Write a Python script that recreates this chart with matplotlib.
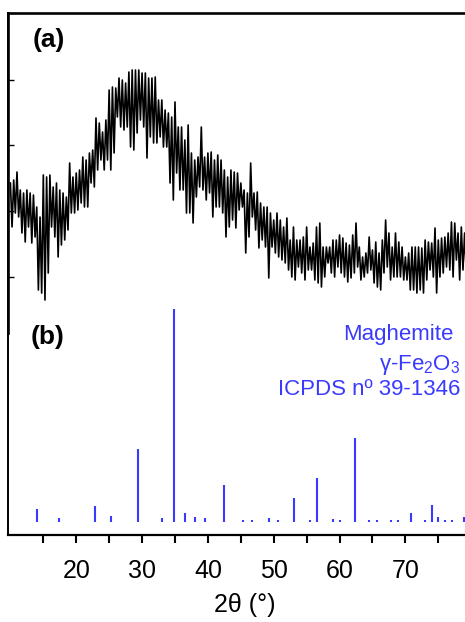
import matplotlib as mpl
mpl.use('Agg')
import matplotlib.pyplot as plt
import numpy as np

plt.rcParams['font.family'] = ['Liberation Sans', 'DejaVu Sans']
plt.rcParams['mathtext.default'] = 'regular'

# (a) measured pattern, read as upper / lower extent of the noise band every 0.5 deg
scan_start = 10.0
scan_step = 0.5
band_high = [157, 160, 168, 150, 147, 150, 147, 145, 133, 123, 165, 163, 165, 153, 157, 150,
             147, 143, 177, 163, 167, 170, 183, 180, 187, 190, 222, 217, 208, 220, 250, 253,
             252, 262, 260, 257, 268, 270, 270, 270, 267, 267, 262, 262, 263, 240, 240, 230,
             227, 223, 238, 213, 213, 200, 215, 187, 180, 183, 213, 183, 187, 188, 180, 185,
             180, 170, 163, 170, 168, 167, 157, 150, 147, 177, 147, 148, 137, 133, 133, 127,
             120, 127, 120, 113, 122, 100, 113, 100, 100, 103, 113, 93, 97, 113, 117, 93,
             93, 93, 100, 100, 105, 102, 97, 95, 105, 117, 93, 83, 87, 103, 90, 98,
             87, 100, 120, 107, 93, 107, 98, 93, 83, 87, 93, 93, 93, 92, 100, 98,
             97, 112, 100, 102, 103, 107, 118, 117, 107, 113, 107]
band_low = [113, 127, 123, 107, 98, 113, 97, 103, 50, 47, 40, 67, 113, 103, 83, 95,
            100, 110, 127, 127, 130, 137, 133, 133, 157, 153, 170, 180, 170, 180, 170, 187,
            223, 213, 210, 213, 193, 190, 207, 220, 213, 182, 203, 197, 197, 203, 193, 193,
            157, 140, 167, 150, 150, 127, 127, 117, 143, 153, 150, 140, 147, 123, 133, 133,
            127, 103, 113, 120, 112, 130, 133, 87, 103, 123, 110, 92, 100, 93, 62, 93,
            87, 83, 80, 77, 70, 63, 60, 73, 67, 60, 70, 70, 60, 57, 53, 63,
            77, 67, 63, 73, 67, 63, 58, 62, 67, 73, 60, 63, 67, 70, 57, 53,
            50, 67, 73, 60, 63, 63, 63, 60, 60, 50, 50, 47, 50, 47, 60, 70,
            63, 47, 63, 67, 73, 70, 63, 80, 60, 70, 67]

# (b) maghemite reference lines
ref_pos = [14.0, 17.43, 22.9, 25.24, 29.39, 33.08, 34.85, 36.48, 38.04, 39.56, 42.5,
           45.29, 46.7, 49.29, 50.6, 53.04, 55.47, 56.62, 58.96, 60.07, 62.35, 64.48,
           65.64, 67.77, 68.83, 70.9, 72.94, 74.0, 75.0, 76.0, 77.04, 78.96]
ref_int = [5.8, 1.6, 7.4, 2.8, 34.0, 1.6, 100.0, 3.9, 2.0, 1.9, 17.3,
           0.8, 0.8, 1.9, 0.9, 11.0, 0.9, 20.4, 1.2, 0.9, 39.2, 0.9,
           0.9, 0.9, 0.9, 3.9, 0.9, 7.7, 2.0, 0.9, 0.9, 2.0]

xticks_major = [20, 30, 40, 50, 60, 70]
xticks_minor = [15, 25, 35, 45, 55, 65, 75]

blue = '#3a3aff'
W, H = 465, 622

fig = plt.figure(figsize=(W / 100, H / 100), dpi=100)

left = 8.3 / W
width = 462.9 / W
frame_top = 13.3
frame_bot = 535.0

ax_bot = fig.add_axes([left, (H - frame_bot) / H, width, (frame_bot - frame_top) / H])
ax_bot.patch.set_alpha(0)
ax_bot.vlines(ref_pos, 0, ref_int, color=blue, lw=1.5)
ax_bot.set_xlim(9.68, 80)
ax_bot.set_ylim(-6.25, 239.0)
ax_bot.spines['top'].set_visible(False)
ax_bot.spines['right'].set_visible(False)
ax_bot.spines['left'].set_linewidth(1.4)
ax_bot.spines['bottom'].set_linewidth(1.6)
ax_bot.set_yticks([])
ax_bot.set_xticks(xticks_major)
ax_bot.set_xticks(xticks_minor, minor=True)
ax_bot.tick_params(axis='x', which='both', direction='out', length=6, width=1.5, pad=11,
                   labelsize=18)
ax_bot.set_xlabel('2θ (°)', fontsize=18)
ax_bot.xaxis.set_label_coords(0.511, -0.112)

top_low = 333.0
ax_top = fig.add_axes([left, (H - top_low) / H, width, (top_low - frame_top) / H])
ax_top.patch.set_alpha(0)
xs = []
ys = []
for i in range(len(band_high)):
    xs += [scan_start + i * scan_step, scan_start + i * scan_step + scan_step / 2]
    ys += [band_high[i], band_low[i]]
ax_top.plot(xs, ys, color='black', lw=1.2)
ax_top.set_xlim(9.68, 80)
ax_top.set_ylim(7, 326.7)
ax_top.spines['bottom'].set_visible(False)
ax_top.spines['right'].set_visible(False)
ax_top.spines['left'].set_linewidth(1.9)
ax_top.spines['top'].set_linewidth(1.9)
ax_top.set_xticks([])
ax_top.set_yticks([63.3, 129.0, 194.7, 260.0])
ax_top.tick_params(axis='y', direction='in', length=4, width=1, labelleft=False)

fig.text(33 / W, 1 - 47.4 / H, '(a)', fontsize=19, fontweight='bold', va='baseline')
fig.text(30.7 / W, 1 - 344.4 / H, '(b)', fontsize=19, fontweight='bold', va='baseline')

fig.text(453 / W, 1 - 340 / H, 'Maghemite', fontsize=16, color=blue, ha='right', va='baseline')
fig.text(460 / W, 1 - 370 / H, 'γ-Fe$_2$O$_3$', fontsize=16, color=blue, ha='right', va='baseline')
fig.text(460 / W, 1 - 395 / H, 'ICPDS nº 39-1346', fontsize=16, color=blue, ha='right', va='baseline')

fig.savefig('out.png', dpi=100)
